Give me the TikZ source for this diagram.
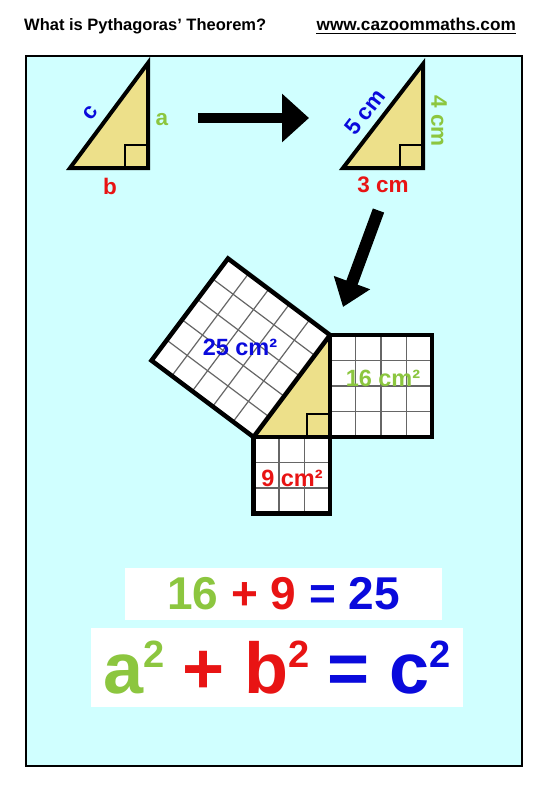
\documentclass[tikz,border=0pt]{standalone}
\usepackage{fontspec}
\setmainfont{Liberation Sans}
\usepackage{xcolor}
\usetikzlibrary{arrows.meta, calc, positioning}
\definecolor{panelcyan}{RGB}{208,255,255}
\definecolor{trifill}{RGB}{237,224,138}
\definecolor{sidea}{RGB}{140,198,63}
\definecolor{sideb}{RGB}{232,20,20}
\definecolor{sidec}{RGB}{10,10,220}
\newcommand{\Fs}[1]{\fontsize{#1}{#1}\selectfont\bfseries}
\newcommand{\Sq}{\raisebox{0.37em}{\fontsize{38}{38}\selectfont 2}}

\begin{document}
\begin{tikzpicture}[x=1pt, y=-1pt,
    tri/.style={fill=trifill, draw=black, line width=4pt},
    rangle/.style={draw=black, line width=1.6pt},
    gridline/.style={draw=black!60, line width=1.2pt},
    sqbox/.style={draw=black, line width=4.5pt},
    lbl/.style={font=\Fs{22.5}, inner sep=0pt},
    arealbl/.style={font=\Fs{23.5}, inner sep=0pt},
    bigarrow/.style={line width=10pt, -{Triangle[width=47pt, length=27pt]}}]
        % page
        \useasboundingbox (0,0) rectangle (550,800);
        \fill[white] (0,0) rectangle (550,800);
        % heading
        \node[anchor=base west, font=\Fs{16.5}, inner sep=0pt] (title) at (24,31) {What is Pythagoras’ Theorem?};
        \node[anchor=base east, font=\Fs{17.2}, inner sep=0pt] (url) at (516,31) {www.cazoommaths.com};
        \draw[line width=1.2pt] ([yshift=-2.5pt]url.base west) -- ([yshift=-2.5pt]url.base east);
        % panel
        \draw[fill=panelcyan, line width=1.5pt] (26,56) rectangle (522,766);

        % triangle with letters
        \coordinate (t1A) at (70,168);
        \coordinate (t1B) at (148,63);
        \coordinate (t1C) at (148,168);
        \draw[tri] (t1A) -- (t1B) -- (t1C) -- cycle;
        \draw[rangle] ($(t1C)+(-23,0)$) |- ($(t1C)+(0,-23)$);
        \node[lbl, text=sidec, rotate=53] (lc) at (91,113) {c};
        \node[lbl, text=sidea] (la) at (162,120) {a};
        \node[lbl, text=sideb] (lb) at (110,186) {b};

        % arrow
        \coordinate (ar1s) at (198,118);
        \coordinate (ar1e) at (309,118);
        \draw[bigarrow] (ar1s) -- (ar1e);

        % triangle with lengths
        \coordinate (t2A) at (343,168);
        \coordinate (t2B) at (423,64);
        \coordinate (t2C) at (423,168);
        \draw[tri] (t2A) -- (t2B) -- (t2C) -- cycle;
        \draw[rangle] ($(t2C)+(-23,0)$) |- ($(t2C)+(0,-23)$);
        \node[lbl, text=sidec, rotate=52.5] (l5) at (365,112) {5 cm};
        \node[lbl, text=sidea, rotate=-90] (l4) at (439,121) {4 cm};
        \node[lbl, text=sideb] (l3) at (383,185) {3 cm};

        % arrow down
        \coordinate (ar2s) at (378.5,210.5);
        \coordinate (ar2e) at (343,307);
        \draw[line width=12pt, -{Triangle[width=37pt, length=26pt]}] (ar2s) -- (ar2e);

        % squares on the sides
        \coordinate (A) at (253.5,437);
        \coordinate (B) at (330,335);
        \coordinate (C) at (330,437);
        \coordinate (P) at (228,258.5);
        \coordinate (Q) at (151.5,360.5);
        \coordinate (R1) at (432,335);
        \coordinate (R2) at (432,437);
        \coordinate (S1) at (330,513.5);
        \coordinate (S2) at (253.5,513.5);
        \fill[trifill] (A) -- (B) -- (C) -- cycle;
        \draw[rangle] ($(C)+(-23,0)$) |- ($(C)+(0,-23)$);
        % c square
        \fill[white] (A) -- (B) -- (P) -- (Q) -- cycle;
        \foreach \t in {0.2,0.4,0.6,0.8} {
            \draw[gridline] ($(A)!\t!(B)$) -- ($(Q)!\t!(P)$);
            \draw[gridline] ($(A)!\t!(Q)$) -- ($(B)!\t!(P)$);
        }
        % a square
        \fill[white] (B) -- (R1) -- (R2) -- (C) -- cycle;
        \foreach \t in {0.25,0.5,0.75} {
            \draw[gridline] ($(B)!\t!(R1)$) -- ($(C)!\t!(R2)$);
            \draw[gridline] ($(B)!\t!(C)$) -- ($(R1)!\t!(R2)$);
        }
        % b square
        \fill[white] (A) -- (C) -- (S1) -- (S2) -- cycle;
        \foreach \t in {0.3333,0.6667} {
            \draw[gridline] ($(A)!\t!(C)$) -- ($(S2)!\t!(S1)$);
            \draw[gridline] ($(A)!\t!(S2)$) -- ($(C)!\t!(S1)$);
        }
        \draw[sqbox] (A) -- (B) -- (P) -- (Q) -- cycle;
        \draw[sqbox] (B) -- (R1) -- (R2) -- (C) -- cycle;
        \draw[sqbox] (A) -- (C) -- (S1) -- (S2) -- cycle;
        \node[arealbl, text=sidec] (ac) at (240,347) {25 cm²};
        \node[arealbl, text=sidea] (aa) at (383,378) {16 cm²};
        \node[arealbl, text=sideb] (ab) at (292,478) {9 cm²};

        % sums
        \node[fill=white, minimum width=317pt, minimum height=52pt, inner sep=0pt, font=\Fs{46}] (sum) at (283.5,594)
            {{\color{sidea}16} {\color{sideb}+ 9} {\color{sidec}= 25}};
        \node[fill=white, minimum width=372pt, minimum height=79pt, inner sep=0pt, font=\Fs{72}] (rule) at (277,667.5)
            {{\color{sidea}a\Sq}\hspace{-2pt} {\color{sideb}+ b\Sq}\hspace{-2pt} {\color{sidec}= c\Sq}};
\end{tikzpicture}
\end{document}
